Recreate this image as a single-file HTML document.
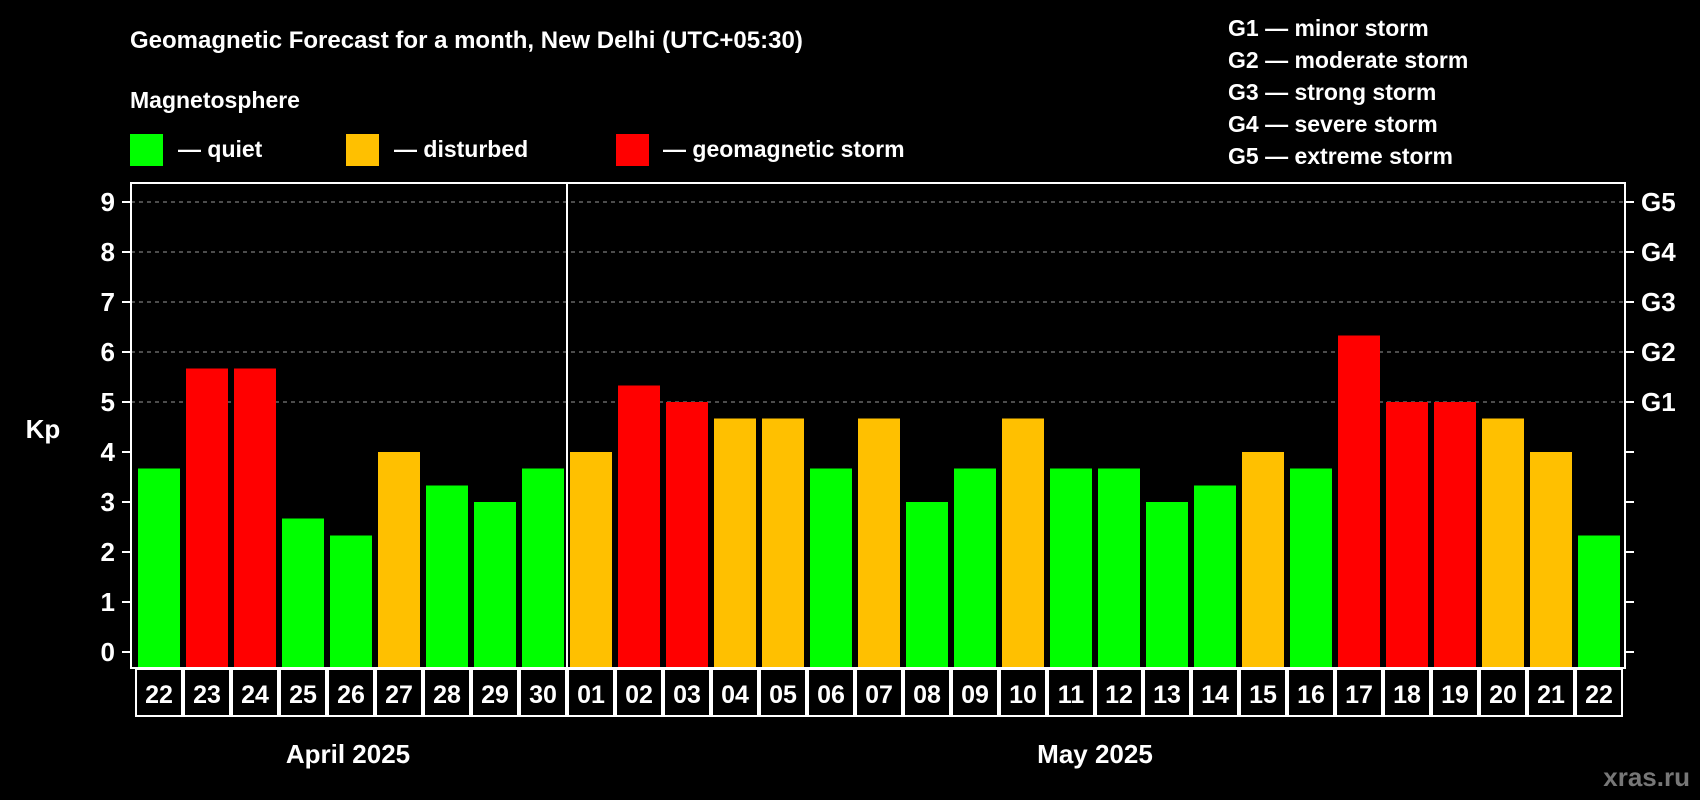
<!DOCTYPE html>
<html><head><meta charset="utf-8"><style>
html,body{margin:0;padding:0;background:#000;}
svg{display:block;font-family:"Liberation Sans",Arial,sans-serif;font-weight:bold;}
</style></head><body>
<svg id="chart" width="1700" height="800" viewBox="0 0 1700 800" xmlns="http://www.w3.org/2000/svg">
<rect x="0" y="0" width="1700" height="800" fill="#000"/>
<text x="130" y="48" fill="#fff" font-size="24">Geomagnetic Forecast for a month, New Delhi (UTC+05:30)</text>
<text x="130" y="108" fill="#fff" font-size="23">Magnetosphere</text>
<g><rect x="130" y="134" width="33" height="32" fill="#00ff00"/><text x="178" y="157" fill="#fff" font-size="23">— quiet</text></g>
<g><rect x="346" y="134" width="33" height="32" fill="#ffc000"/><text x="394" y="157" fill="#fff" font-size="23">— disturbed</text></g>
<g><rect x="616" y="134" width="33" height="32" fill="#ff0000"/><text x="663" y="157" fill="#fff" font-size="23">— geomagnetic storm</text></g>
<g fill="#fff" font-size="23">
<text x="1228" y="36">G1 — minor storm</text>
<text x="1228" y="68">G2 — moderate storm</text>
<text x="1228" y="100">G3 — strong storm</text>
<text x="1228" y="132">G4 — severe storm</text>
<text x="1228" y="164">G5 — extreme storm</text>
</g>
<text x="43" y="438" fill="#fff" font-size="26" text-anchor="middle">Kp</text>
<text x="348" y="763" fill="#fff" font-size="26" text-anchor="middle">April 2025</text>
<text x="1095" y="763" fill="#fff" font-size="26" text-anchor="middle">May 2025</text>
<text x="1690" y="786" fill="#777" font-size="26" text-anchor="end">xras.ru</text>
<g id="plot"></g>
</svg>
<script>
const days = ["22","23","24","25","26","27","28","29","30","01","02","03","04","05","06","07","08","09","10","11","12","13","14","15","16","17","18","19","20","21","22"];
const kpValues = [3.67,5.67,5.67,2.67,2.33,4,3.33,3,3.67,4,5.33,5,4.67,4.67,3.67,4.67,3,3.67,4.67,3.67,3.67,3,3.33,4,3.67,6.33,5,5,4.67,4,2.33];
const yTicks = [0,1,2,3,4,5,6,7,8,9];
const gLabels = ["G1","G2","G3","G4","G5"];
const gLevels = [5,6,7,8,9];
const monthSplitIndex = 9;

const NS="http://www.w3.org/2000/svg";
const plot=document.getElementById('plot');
const L=131,R=1625,T=183,B=668;
const y=v=>652-v*50;
const x=i=>159+i*48;
const barW=42;
function mk(tag,attrs){const e=document.createElementNS(NS,tag);for(const k in attrs)e.setAttribute(k,attrs[k]);plot.appendChild(e);return e;}
// grid
yTicks.forEach(v=>{
  if(v>=5){const g=mk('line',{x1:L,x2:R,y1:y(v),y2:y(v),stroke:'#999','stroke-width':1,'stroke-dasharray':'4,4'});
  
  }
  const t=mk('line',{x1:L-9,x2:L,y1:y(v),y2:y(v),stroke:'#fff','stroke-width':2});
  
  
  const tr=mk('line',{x1:R,x2:R+9,y1:y(v),y2:y(v),stroke:'#fff','stroke-width':2});
  
  
  const lb=mk('text',{x:L-16,y:y(v)+9,fill:'#fff','font-size':26,'text-anchor':'end'});
  lb.textContent=v;
  
  
});
gLabels.forEach((g,i)=>{
  const t=mk('text',{x:R+16,y:y(gLevels[i])+9,fill:'#fff','font-size':26});
  t.textContent=g;
  
  
});
// bars
kpValues.forEach((v,i)=>{
  const c=v>=5?'#ff0000':(v>=4?'#ffc000':'#00ff00');
  const b=mk('rect',{x:x(i)-barW/2,y:y(v),width:barW,height:B-y(v),fill:c});
  
  
  const cell=mk('rect',{x:x(i)-23,y:B+1,width:46,height:47,fill:'none',stroke:'#fff','stroke-width':2});
  
  
  const t=mk('text',{x:x(i),y:B+35,fill:'#fff','font-size':25,'text-anchor':'middle'});
  t.textContent=days[i];
  
  
});
const frame=mk('rect',{x:L,y:T,width:R-L,height:B-T,fill:'none',stroke:'#fff','stroke-width':2});


const sx=(x(monthSplitIndex-1)+x(monthSplitIndex))/2;
const sep=mk('line',{x1:sx,x2:sx,y1:T,y2:B,stroke:'#fff','stroke-width':2});


</script>
</body></html>
